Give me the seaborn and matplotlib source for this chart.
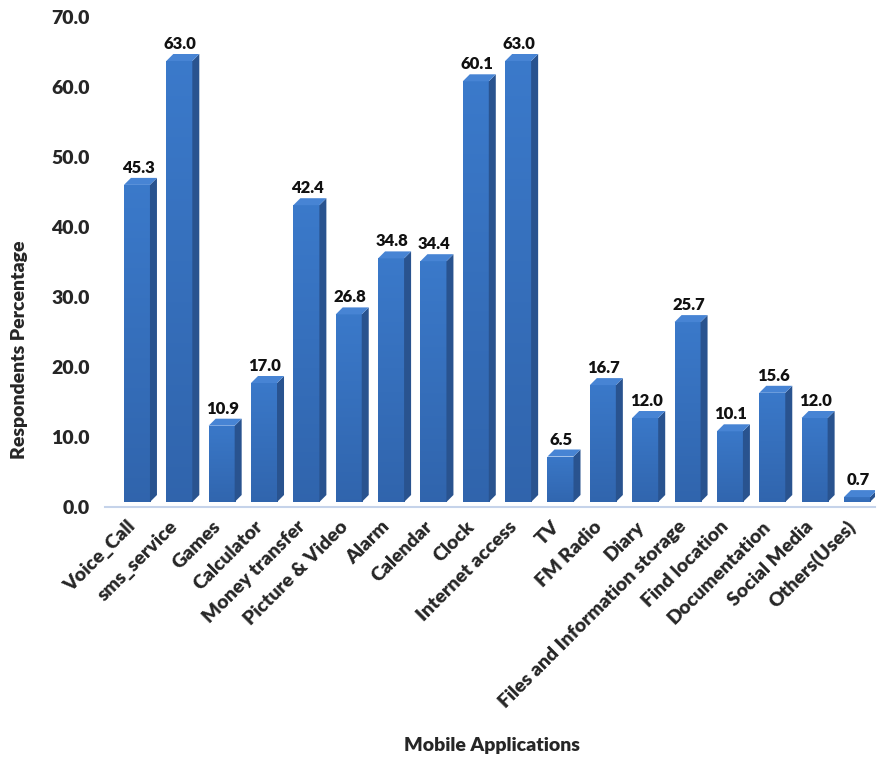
import matplotlib
matplotlib.use("Agg")
import matplotlib.pyplot as plt
import matplotlib.transforms as mtransforms
from matplotlib.colors import LinearSegmentedColormap
from matplotlib.patches import Polygon
import numpy as np
import seaborn as sns
import pandas as pd

apps = ["Voice_Call", "sms_service", "Games", "Calculator", "Money transfer",
        "Picture & Video", "Alarm", "Calendar", "Clock", "Internet access",
        "TV", "FM Radio", "Diary", "Files and Information storage",
        "Find location", "Documentation", "Social Media", "Others(Uses)"]
percent = [45.3, 63.0, 10.9, 17.0, 42.4, 26.8, 34.8, 34.4, 60.1, 63.0,
           6.5, 16.7, 12.0, 25.7, 10.1, 15.6, 12.0, 0.7]
y_ticks = [0, 10, 20, 30, 40, 50, 60, 70]

df = pd.DataFrame({"app": apps, "pct": percent})

sns.set_theme(style="white")
plt.rcParams["font.family"] = ["Lato", "DejaVu Sans"]

W, H = 882, 758
fig = plt.figure(figsize=(W / 100, H / 100), dpi=100)
ax = fig.add_axes([105 / W, 1 - 507 / H, 770 / W, 490 / H])

FRONT = "#3876c6"
SIDE = "#29538f"
TOP = "#4784d4"
WEIGHT = "heavy"
front_shade = LinearSegmentedColormap.from_list("front", ["#3064ac", "#3b7acb"])

sns.barplot(data=df, x="app", y="pct", color=FRONT, width=0.614,
            saturation=1, ax=ax, edgecolor="none", zorder=3)
ax.set_xlim(-0.66, 17.52)
ax.set_ylim(0, 70)

# bars sit on the back wall: shifted up/right from the floor edge
fig.canvas.draw()
back = mtransforms.ScaledTranslation(4 / 100, 5 / 100, fig.dpi_scale_trans)
to_disp = ax.transData
to_data = ax.transData.inverted()
DX, DY = 7, 7  # extrusion depth in pixels
grad = np.linspace(0, 1, 256).reshape(-1, 1)
bars = ax.patches[:len(percent)]
for bar in bars:
    bar.set_transform(ax.transData + back)
    x0 = bar.get_x()
    x1 = x0 + bar.get_width()
    h = bar.get_height()
    # vertical shading on the front face
    img = ax.imshow(grad, cmap=front_shade, origin="lower", aspect="auto",
                    extent=[x0 - 0.05, x1 + 0.05, -1, h + 1], zorder=3,
                    interpolation="bilinear")
    img.set_transform(ax.transData + back)
    img.set_clip_path(bar)
    (ax0, ay0), (ax1, ay1), (bx1, by1) = to_disp.transform([(x0, h), (x1, h), (x1, 0)])
    top = to_data.transform([(ax0, ay0), (ax1, ay1), (ax1 + DX, ay1 + DY), (ax0 + DX, ay0 + DY)])
    side = to_data.transform([(ax1, ay1), (bx1, by1), (bx1 + DX, by1 + DY), (ax1 + DX, ay1 + DY)])
    ax.add_patch(Polygon(side, closed=True, facecolor=SIDE, edgecolor="none",
                         zorder=3, transform=ax.transData + back))
    ax.add_patch(Polygon(top, closed=True, facecolor=TOP, edgecolor="none",
                         zorder=3, transform=ax.transData + back))
    lx, ly = to_data.transform([((ax0 + ax1) / 2 + 1, ay0 + DY + 2)])[0]
    ax.text(lx, ly, f"{h:.1f}", ha="center", va="bottom", fontsize=12,
            fontweight=WEIGHT, color="#111111", zorder=4,
            transform=ax.transData + back)

ax.set_xlim(-0.66, 17.52)
ax.set_ylim(0, 70)

for s in ["top", "right", "left"]:
    ax.spines[s].set_visible(False)
ax.spines["bottom"].set_color("#c5d3ea")
ax.spines["bottom"].set_linewidth(1.5)
ax.spines["bottom"].set_zorder(1)

ax.set_yticks(y_ticks)
ax.set_yticklabels([f"{v:.1f}" for v in y_ticks], fontsize=14, fontweight=WEIGHT)
ax.tick_params(axis="y", length=0, pad=11)
ax.tick_params(axis="x", length=0, pad=12)
ax.set_xticks(range(len(apps)))
ax.set_xticklabels(apps, rotation=45, ha="right", va="center", rotation_mode="anchor",
                   fontsize=14, fontweight=WEIGHT)

ax.set_ylabel("")
ax.set_xlabel("")
fig.text(20 / W, 1 - 350 / H, "Respondents Percentage", rotation=90, ha="center",
         va="center", fontsize=14, fontweight=WEIGHT)
fig.text(492 / W, 1 - 745 / H, "Mobile Applications", ha="center", va="center",
         fontsize=14, fontweight=WEIGHT)

fig.savefig("out.png", dpi=100, facecolor="white")
